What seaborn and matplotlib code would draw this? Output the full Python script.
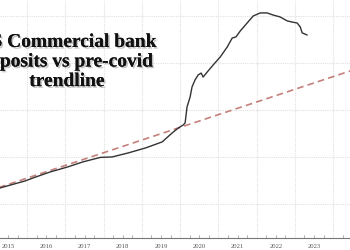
import matplotlib
matplotlib.use("Agg")
import matplotlib.pyplot as plt
import matplotlib.patheffects as pe
from matplotlib.ticker import MultipleLocator, FixedLocator, FixedFormatter
import seaborn as sns
import pandas as pd

# Deposit series (year fraction, trillions USD - estimated)
dep_years = [2015.29, 2015.95, 2016.16, 2016.60, 2017.05, 2017.46, 2017.91, 2018.22,
             2018.64, 2019.09, 2019.53, 2019.79, 2019.95, 2020.08, 2020.13, 2020.18,
             2020.26, 2020.31, 2020.39, 2020.47, 2020.55, 2020.60, 2020.71, 2020.86,
             2021.05, 2021.23, 2021.36, 2021.46, 2021.57, 2021.75, 2021.91, 2022.09,
             2022.27, 2022.43, 2022.61, 2022.80, 2022.93, 2023.06, 2023.14, 2023.19,
             2023.32]
dep_values = [10.68, 10.98, 11.11, 11.36, 11.57, 11.79, 11.98, 12.00,
              12.17, 12.38, 12.64, 13.02, 13.23, 13.36, 13.45, 14.13,
              14.55, 14.98, 15.28, 15.49, 15.57, 15.40, 15.62, 15.91,
              16.26, 16.68, 17.06, 17.11, 17.36, 17.70, 18.00, 18.13,
              18.13, 18.04, 17.96, 17.79, 17.74, 17.70, 17.53, 17.28,
              17.19]

# Pre-covid trendline
trend_years = [2015.0, 2025.0]
trend_values = [10.56, 15.96]

year_labels = ["2015", "2016", "2017", "2018", "2019", "2020", "2021", "2022", "2023", "2024"]
title_text = "US Commercial bank\ndeposits vs pre-covid\ntrendline"

sns.set_style("white")

fig = plt.figure(figsize=(3.5, 2.5), dpi=100)
ax = fig.add_axes([0, 12 / 250, 1, 238 / 250])

dep_df = pd.DataFrame({"year": dep_years, "value": dep_values})
trend_df = pd.DataFrame({"year": trend_years, "value": trend_values})

sns.lineplot(data=trend_df, x="year", y="value", ax=ax, color="#c4817b",
             linewidth=1.2, dashes=False, linestyle=(0, (4, 2.5)), zorder=3)
sns.lineplot(data=dep_df, x="year", y="value", ax=ax, color="#333333",
             linewidth=1.0, zorder=4)

ax.set_xlim(2015.29, 2024.44)
ax.set_ylim(8.55, 18.68)

# grid
ax.xaxis.set_major_locator(MultipleLocator(1))
ax.yaxis.set_major_locator(MultipleLocator(2))
ax.grid(True, which="major", color="#e0e0e0", linewidth=0.8, linestyle=(0, (1, 1)))
ax.set_axisbelow(True)

# year labels at mid-year
mids = [int(y) + 0.5 for y in year_labels]
ax.xaxis.set_minor_locator(FixedLocator(mids))
ax.xaxis.set_minor_formatter(FixedFormatter(year_labels))
ax.xaxis.set_major_formatter(FixedFormatter([]))
ax.tick_params(axis="x", which="major", direction="out", length=9, color="#cccccc", width=0.8)
ax.tick_params(axis="x", which="minor", length=0, pad=4, labelsize=4.8, labelcolor="#555555")
for lab in ax.xaxis.get_minorticklabels():
    lab.set_family("Liberation Serif")
ax.tick_params(axis="y", left=False, labelleft=False)

for s in ["top", "right", "left"]:
    ax.spines[s].set_visible(False)
ax.spines["bottom"].set_color("#777777")
ax.spines["bottom"].set_linewidth(0.8)

# quarter ticks above the axis
for yr in range(2015, 2025):
    for q in (0.25, 0.5, 0.75):
        ax.plot([yr + q, yr + q], [8.55, 8.68], color="#999999", linewidth=0.5,
                clip_on=False)

ax.set_xlabel("")
ax.set_ylabel("")

fig.text(67 / 350, 1 - 62 / 250, title_text, ha="center", va="center",
         multialignment="center", family="Liberation Serif", fontweight="bold",
         fontsize=14, color="#111111", linespacing=1.2,
         path_effects=[pe.withSimplePatchShadow(offset=(1.2, -1.2), shadow_rgbFace="#888888", alpha=0.5),
                       pe.Normal()])

fig.savefig("out.png", dpi=100, facecolor="white")
